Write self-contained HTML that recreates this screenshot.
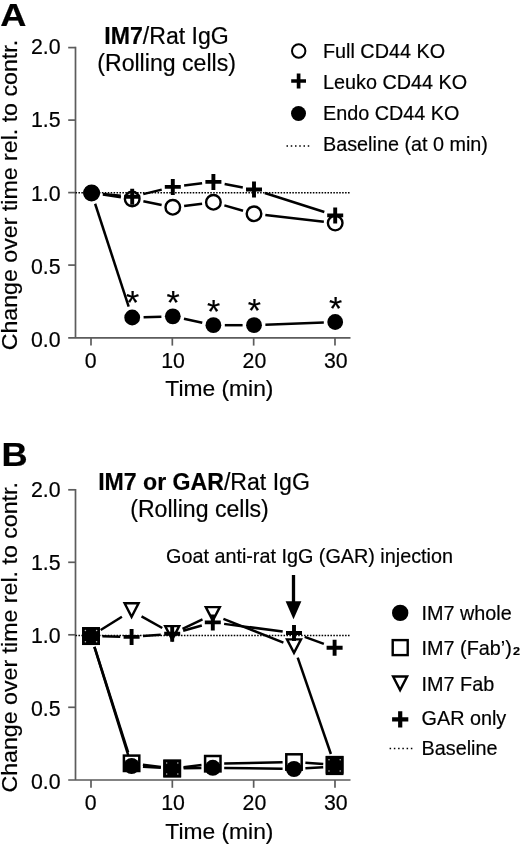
<!DOCTYPE html>
<html><head><meta charset="utf-8"><title>Figure</title>
<style>
html,body{margin:0;padding:0;background:#fff;}
body{width:520px;height:844px;overflow:hidden;}
svg{display:block;font-family:"Liberation Sans",sans-serif;fill:#000;}
svg text{stroke:#000;stroke-width:0.2px;}
</style></head><body>
<svg width="520" height="844" viewBox="0 0 520 844">
<defs><filter id="soft" x="0" y="0" width="520" height="844" filterUnits="userSpaceOnUse"><feGaussianBlur stdDeviation="0.35"/></filter></defs>
<rect width="520" height="844" fill="#fff"/>
<g filter="url(#soft)">
<path d="M68.2 337.8H350.5M75.5 46.800000000000004V337.8" stroke="#5c5c5c" stroke-width="1.7" fill="none"/>
<line x1="68.2" y1="47.60" x2="75.5" y2="47.60" stroke="#5c5c5c" stroke-width="1.7"/>
<text x="60.6" y="54.30" font-size="21.3" text-anchor="end" font-weight="normal" >2.0</text>
<line x1="68.2" y1="120.10" x2="75.5" y2="120.10" stroke="#5c5c5c" stroke-width="1.7"/>
<text x="60.6" y="127.40" font-size="21.3" text-anchor="end" font-weight="normal" >1.5</text>
<line x1="68.2" y1="192.60" x2="75.5" y2="192.60" stroke="#5c5c5c" stroke-width="1.7"/>
<text x="60.6" y="200.50" font-size="21.3" text-anchor="end" font-weight="normal" >1.0</text>
<line x1="68.2" y1="265.10" x2="75.5" y2="265.10" stroke="#5c5c5c" stroke-width="1.7"/>
<text x="60.6" y="273.60" font-size="21.3" text-anchor="end" font-weight="normal" >0.5</text>
<text x="60.6" y="346.70" font-size="21.3" text-anchor="end" font-weight="normal" >0.0</text>
<line x1="91.00" y1="337.8" x2="91.00" y2="345.6" stroke="#5c5c5c" stroke-width="1.7"/>
<text x="90.60" y="367.7" font-size="21.3" text-anchor="middle" font-weight="normal" >0</text>
<line x1="172.33" y1="337.8" x2="172.33" y2="345.6" stroke="#5c5c5c" stroke-width="1.7"/>
<text x="173.13" y="367.7" font-size="21.3" text-anchor="middle" font-weight="normal" >10</text>
<line x1="253.66" y1="337.8" x2="253.66" y2="345.6" stroke="#5c5c5c" stroke-width="1.7"/>
<text x="254.46" y="367.7" font-size="21.3" text-anchor="middle" font-weight="normal" >20</text>
<line x1="334.99" y1="337.8" x2="334.99" y2="345.6" stroke="#5c5c5c" stroke-width="1.7"/>
<text x="335.79" y="367.7" font-size="21.3" text-anchor="middle" font-weight="normal" >30</text>
<line x1="75.5" y1="192.70" x2="350.5" y2="192.70" stroke="#000" stroke-width="1.6" stroke-dasharray="1.55 1.38"/>
<text x="219.4" y="396.3" font-size="22.8" text-anchor="middle" font-weight="normal" >Time (min)</text>
<text x="0" y="0" font-size="22.7" text-anchor="middle" font-weight="normal" textLength="310.5" lengthAdjust="spacingAndGlyphs" transform="translate(17.0 195.1) rotate(-90)">Change over time rel. to contr.</text>
<text x="0" y="0" font-size="31.5" text-anchor="start" font-weight="bold" transform="translate(0.2 26.2) scale(1.15 1.02)">A</text>
<text x="166.6" y="43.6" font-size="23.1" text-anchor="middle"><tspan font-weight="bold">IM7</tspan>/Rat IgG</text>
<text x="166.6" y="71.3" font-size="23.1" text-anchor="middle" font-weight="normal" >(Rolling cells)</text>
<line x1="102.87" y1="194.59" x2="120.93" y2="197.31" stroke="#000" stroke-width="2.5"/>
<line x1="143.37" y1="201.28" x2="161.63" y2="205.02" stroke="#000" stroke-width="2.5"/>
<line x1="184.11" y1="205.91" x2="202.09" y2="203.69" stroke="#000" stroke-width="2.5"/>
<line x1="224.37" y1="205.41" x2="243.03" y2="210.69" stroke="#000" stroke-width="2.5"/>
<line x1="265.33" y1="215.10" x2="323.87" y2="221.80" stroke="#000" stroke-width="2.5"/>
<line x1="102.95" y1="193.99" x2="120.85" y2="195.71" stroke="#000" stroke-width="2.5"/>
<line x1="143.28" y1="194.10" x2="161.72" y2="189.60" stroke="#000" stroke-width="2.5"/>
<line x1="184.11" y1="185.51" x2="202.09" y2="183.29" stroke="#000" stroke-width="2.5"/>
<line x1="224.61" y1="184.00" x2="242.79" y2="187.40" stroke="#000" stroke-width="2.5"/>
<line x1="264.86" y1="192.96" x2="324.34" y2="211.94" stroke="#000" stroke-width="2.5"/>
<line x1="95.13" y1="203.74" x2="128.67" y2="306.66" stroke="#000" stroke-width="2.5"/>
<line x1="143.60" y1="317.16" x2="161.40" y2="316.64" stroke="#000" stroke-width="2.5"/>
<line x1="183.94" y1="318.74" x2="202.26" y2="322.76" stroke="#000" stroke-width="2.5"/>
<line x1="224.80" y1="325.20" x2="242.60" y2="325.20" stroke="#000" stroke-width="2.5"/>
<line x1="265.39" y1="324.75" x2="323.81" y2="322.45" stroke="#000" stroke-width="2.5"/>
<circle cx="91.60" cy="192.90" r="7.3" fill="#fff" stroke="#000" stroke-width="2.4"/>
<circle cx="132.20" cy="199.00" r="7.3" fill="#fff" stroke="#000" stroke-width="2.4"/>
<circle cx="172.80" cy="207.30" r="7.3" fill="#fff" stroke="#000" stroke-width="2.4"/>
<circle cx="213.40" cy="202.30" r="7.3" fill="#fff" stroke="#000" stroke-width="2.4"/>
<circle cx="254.00" cy="213.80" r="7.3" fill="#fff" stroke="#000" stroke-width="2.4"/>
<circle cx="335.20" cy="223.10" r="7.3" fill="#fff" stroke="#000" stroke-width="2.4"/>
<path d="M83.60 192.90H99.60M91.60 184.90V200.90" stroke="#000" stroke-width="3.9" fill="none"/>
<path d="M124.20 196.80H140.20M132.20 188.80V204.80" stroke="#000" stroke-width="3.9" fill="none"/>
<path d="M164.80 186.90H180.80M172.80 178.90V194.90" stroke="#000" stroke-width="3.9" fill="none"/>
<path d="M205.40 181.90H221.40M213.40 173.90V189.90" stroke="#000" stroke-width="3.9" fill="none"/>
<path d="M246.00 189.50H262.00M254.00 181.50V197.50" stroke="#000" stroke-width="3.9" fill="none"/>
<path d="M327.20 215.40H343.20M335.20 207.40V223.40" stroke="#000" stroke-width="3.9" fill="none"/>
<circle cx="91.60" cy="192.90" r="7.9" fill="#000"/>
<circle cx="132.20" cy="317.50" r="7.9" fill="#000"/>
<circle cx="172.80" cy="316.30" r="7.9" fill="#000"/>
<circle cx="213.40" cy="325.20" r="7.9" fill="#000"/>
<circle cx="254.00" cy="325.20" r="7.9" fill="#000"/>
<circle cx="335.20" cy="322.00" r="7.9" fill="#000"/>
<text x="132.50" y="314.10" font-size="34" text-anchor="middle" font-weight="normal" >*</text>
<text x="173.10" y="313.80" font-size="34" text-anchor="middle" font-weight="normal" >*</text>
<text x="213.70" y="323.30" font-size="34" text-anchor="middle" font-weight="normal" >*</text>
<text x="254.30" y="322.30" font-size="34" text-anchor="middle" font-weight="normal" >*</text>
<text x="335.50" y="319.80" font-size="34" text-anchor="middle" font-weight="normal" >*</text>
<circle cx="298.70" cy="51.00" r="6.7" fill="#fff" stroke="#000" stroke-width="2.0"/>
<text x="323.0" y="58.2" font-size="19.8" text-anchor="start" font-weight="normal" >Full CD44 KO</text>
<path d="M291.20 81.00H306.00M298.60 73.60V88.40" stroke="#000" stroke-width="3.7" fill="none"/>
<text x="323.0" y="88.8" font-size="19.8" text-anchor="start" font-weight="normal" >Leuko CD44 KO</text>
<circle cx="298.50" cy="113.50" r="7.5" fill="#000"/>
<text x="323.0" y="119.9" font-size="19.8" text-anchor="start" font-weight="normal" >Endo CD44 KO</text>
<line x1="286.5" y1="146.0" x2="309.3" y2="146.0" stroke="#000" stroke-width="1.5" stroke-dasharray="1.5 2.75"/>
<text x="323.0" y="150.8" font-size="19.8" text-anchor="start" font-weight="normal" >Baseline (at 0 min)</text>
<path d="M68.2 780.0H350.5M75.5 489.0V780.0" stroke="#5c5c5c" stroke-width="1.7" fill="none"/>
<line x1="68.2" y1="489.80" x2="75.5" y2="489.80" stroke="#5c5c5c" stroke-width="1.7"/>
<text x="60.6" y="496.50" font-size="21.3" text-anchor="end" font-weight="normal" >2.0</text>
<line x1="68.2" y1="562.30" x2="75.5" y2="562.30" stroke="#5c5c5c" stroke-width="1.7"/>
<text x="60.6" y="569.60" font-size="21.3" text-anchor="end" font-weight="normal" >1.5</text>
<line x1="68.2" y1="634.80" x2="75.5" y2="634.80" stroke="#5c5c5c" stroke-width="1.7"/>
<text x="60.6" y="642.70" font-size="21.3" text-anchor="end" font-weight="normal" >1.0</text>
<line x1="68.2" y1="707.30" x2="75.5" y2="707.30" stroke="#5c5c5c" stroke-width="1.7"/>
<text x="60.6" y="715.80" font-size="21.3" text-anchor="end" font-weight="normal" >0.5</text>
<text x="60.6" y="788.90" font-size="21.3" text-anchor="end" font-weight="normal" >0.0</text>
<line x1="91.00" y1="780.0" x2="91.00" y2="787.8" stroke="#5c5c5c" stroke-width="1.7"/>
<text x="90.60" y="809.9" font-size="21.3" text-anchor="middle" font-weight="normal" >0</text>
<line x1="172.33" y1="780.0" x2="172.33" y2="787.8" stroke="#5c5c5c" stroke-width="1.7"/>
<text x="173.13" y="809.9" font-size="21.3" text-anchor="middle" font-weight="normal" >10</text>
<line x1="253.66" y1="780.0" x2="253.66" y2="787.8" stroke="#5c5c5c" stroke-width="1.7"/>
<text x="254.46" y="809.9" font-size="21.3" text-anchor="middle" font-weight="normal" >20</text>
<line x1="334.99" y1="780.0" x2="334.99" y2="787.8" stroke="#5c5c5c" stroke-width="1.7"/>
<text x="335.79" y="809.9" font-size="21.3" text-anchor="middle" font-weight="normal" >30</text>
<line x1="75.5" y1="635.50" x2="350.5" y2="635.50" stroke="#000" stroke-width="1.6" stroke-dasharray="1.55 1.38"/>
<text x="219.4" y="838.5" font-size="22.8" text-anchor="middle" font-weight="normal" >Time (min)</text>
<text x="0" y="0" font-size="22.7" text-anchor="middle" font-weight="normal" textLength="310.5" lengthAdjust="spacingAndGlyphs" transform="translate(17.0 637.3) rotate(-90)">Change over time rel. to contr.</text>
<text x="0" y="0" font-size="31.5" text-anchor="start" font-weight="bold" transform="translate(1.6 465.8) scale(1.15 1.08)">B</text>
<text x="98.2" y="489.6" font-size="23.1"><tspan font-weight="bold">IM7 or GAR</tspan>/Rat IgG</text>
<text x="199.5" y="516.6" font-size="23.1" text-anchor="middle" font-weight="normal" >(Rolling cells)</text>
<text x="166.0" y="563.3" font-size="19.8" text-anchor="start" font-weight="normal" >Goat anti-rat IgG (GAR) injection</text>
<line x1="94.40" y1="646.98" x2="128.20" y2="755.12" stroke="#000" stroke-width="2.5"/>
<line x1="142.98" y1="766.70" x2="160.82" y2="767.80" stroke="#000" stroke-width="2.5"/>
<line x1="183.60" y1="768.30" x2="201.40" y2="768.00" stroke="#000" stroke-width="2.5"/>
<line x1="224.20" y1="767.97" x2="282.60" y2="768.83" stroke="#000" stroke-width="2.5"/>
<line x1="305.38" y1="768.27" x2="323.22" y2="767.13" stroke="#000" stroke-width="2.5"/>
<line x1="94.47" y1="646.96" x2="128.13" y2="752.44" stroke="#000" stroke-width="2.5"/>
<line x1="142.91" y1="764.75" x2="160.89" y2="767.05" stroke="#000" stroke-width="2.5"/>
<line x1="183.52" y1="767.16" x2="201.48" y2="765.04" stroke="#000" stroke-width="2.5"/>
<line x1="224.20" y1="763.46" x2="282.60" y2="762.24" stroke="#000" stroke-width="2.5"/>
<line x1="305.37" y1="762.78" x2="323.23" y2="764.02" stroke="#000" stroke-width="2.5"/>
<line x1="100.67" y1="630.06" x2="121.93" y2="616.79" stroke="#000" stroke-width="2.5"/>
<line x1="141.53" y1="616.34" x2="162.27" y2="628.01" stroke="#000" stroke-width="2.5"/>
<line x1="182.53" y1="628.77" x2="202.47" y2="619.43" stroke="#000" stroke-width="2.5"/>
<line x1="223.40" y1="618.80" x2="283.40" y2="642.60" stroke="#000" stroke-width="2.5"/>
<line x1="297.71" y1="657.58" x2="330.89" y2="754.02" stroke="#000" stroke-width="2.5"/>
<line x1="102.40" y1="636.32" x2="120.20" y2="636.68" stroke="#000" stroke-width="2.5"/>
<line x1="142.97" y1="636.03" x2="160.83" y2="634.67" stroke="#000" stroke-width="2.5"/>
<line x1="183.18" y1="630.72" x2="201.82" y2="625.48" stroke="#000" stroke-width="2.5"/>
<line x1="224.10" y1="623.88" x2="282.70" y2="631.52" stroke="#000" stroke-width="2.5"/>
<line x1="304.72" y1="636.88" x2="323.88" y2="643.82" stroke="#000" stroke-width="2.5"/>
<path d="M84.00 628.65H98.00L91.00 642.15Z" fill="#fff" stroke="#000" stroke-width="2.4" stroke-linejoin="miter"/>
<path d="M124.60 603.30H138.60L131.60 616.80Z" fill="#fff" stroke="#000" stroke-width="2.4" stroke-linejoin="miter"/>
<path d="M165.20 626.15H179.20L172.20 639.65Z" fill="#fff" stroke="#000" stroke-width="2.4" stroke-linejoin="miter"/>
<path d="M205.80 607.15H219.80L212.80 620.65Z" fill="#fff" stroke="#000" stroke-width="2.4" stroke-linejoin="miter"/>
<path d="M287.00 639.35H301.00L294.00 652.85Z" fill="#fff" stroke="#000" stroke-width="2.4" stroke-linejoin="miter"/>
<path d="M327.60 757.35H341.60L334.60 770.85Z" fill="#fff" stroke="#000" stroke-width="2.4" stroke-linejoin="miter"/>
<path d="M83.00 636.10H99.00M91.00 628.10V644.10" stroke="#000" stroke-width="3.9" fill="none"/>
<path d="M123.60 636.90H139.60M131.60 628.90V644.90" stroke="#000" stroke-width="3.9" fill="none"/>
<path d="M164.20 633.80H180.20M172.20 625.80V641.80" stroke="#000" stroke-width="3.9" fill="none"/>
<path d="M204.80 622.40H220.80M212.80 614.40V630.40" stroke="#000" stroke-width="3.9" fill="none"/>
<path d="M286.00 633.00H302.00M294.00 625.00V641.00" stroke="#000" stroke-width="3.9" fill="none"/>
<path d="M326.60 647.70H342.60M334.60 639.70V655.70" stroke="#000" stroke-width="3.9" fill="none"/>
<rect x="83.30" y="628.40" width="15.4" height="15.4" fill="#fff" stroke="#000" stroke-width="2.5"/>
<rect x="123.90" y="755.60" width="15.4" height="15.4" fill="#fff" stroke="#000" stroke-width="2.5"/>
<rect x="164.50" y="760.80" width="15.4" height="15.4" fill="#fff" stroke="#000" stroke-width="2.5"/>
<rect x="205.10" y="756.00" width="15.4" height="15.4" fill="#fff" stroke="#000" stroke-width="2.5"/>
<rect x="286.30" y="754.30" width="15.4" height="15.4" fill="#fff" stroke="#000" stroke-width="2.5"/>
<rect x="326.90" y="757.10" width="15.4" height="15.4" fill="#fff" stroke="#000" stroke-width="2.5"/>
<circle cx="91.00" cy="636.10" r="8.0" fill="#000"/>
<circle cx="131.60" cy="766.00" r="8.0" fill="#000"/>
<circle cx="172.20" cy="768.50" r="8.0" fill="#000"/>
<circle cx="212.80" cy="767.80" r="8.0" fill="#000"/>
<circle cx="294.00" cy="769.00" r="8.0" fill="#000"/>
<circle cx="334.60" cy="766.40" r="8.0" fill="#000"/>
<rect x="82.10" y="627.20" width="17.8" height="17.8" fill="#000"/>
<circle cx="85.40" cy="630.50" r="0.75" fill="#fff" fill-opacity="0.75"/>
<circle cx="85.40" cy="641.70" r="0.75" fill="#fff" fill-opacity="0.75"/>
<circle cx="96.60" cy="630.50" r="0.75" fill="#fff" fill-opacity="0.75"/>
<circle cx="96.60" cy="641.70" r="0.75" fill="#fff" fill-opacity="0.75"/>
<rect x="163.30" y="759.60" width="17.8" height="17.8" fill="#000"/>
<circle cx="166.60" cy="762.90" r="0.75" fill="#fff" fill-opacity="0.75"/>
<circle cx="166.60" cy="774.10" r="0.75" fill="#fff" fill-opacity="0.75"/>
<circle cx="177.80" cy="762.90" r="0.75" fill="#fff" fill-opacity="0.75"/>
<circle cx="177.80" cy="774.10" r="0.75" fill="#fff" fill-opacity="0.75"/>
<rect x="325.70" y="756.50" width="17.8" height="18.6" fill="#000"/>
<circle cx="329.00" cy="759.80" r="0.75" fill="#fff" fill-opacity="0.75"/>
<circle cx="329.00" cy="771.00" r="0.75" fill="#fff" fill-opacity="0.75"/>
<circle cx="340.20" cy="759.80" r="0.75" fill="#fff" fill-opacity="0.75"/>
<circle cx="340.20" cy="771.00" r="0.75" fill="#fff" fill-opacity="0.75"/>
<line x1="293.5" y1="575" x2="293.5" y2="606" stroke="#000" stroke-width="3.3"/>
<path d="M285.6 601.2H301.4L293.5 619.2Z" fill="#000"/>
<circle cx="400.20" cy="612.90" r="8.2" fill="#000"/>
<text x="421.6" y="619.6" font-size="19.8" text-anchor="start" font-weight="normal" >IM7 whole</text>
<rect x="392.70" y="640.10" width="15.0" height="15.0" fill="#fff" stroke="#000" stroke-width="2.4"/>
<text x="421.6" y="655.0" font-size="19.8" text-anchor="start" font-weight="normal" >IM7 (Fab’)</text>
<text x="0" y="0" font-size="11" text-anchor="start" font-weight="bold" transform="translate(512.9 655.0) scale(1.15 1)">2</text>
<path d="M393.10 676.55H407.10L400.10 690.05Z" fill="#fff" stroke="#000" stroke-width="2.4" stroke-linejoin="miter"/>
<text x="421.6" y="691.0" font-size="19.8" text-anchor="start" font-weight="normal" >IM7 Fab</text>
<path d="M392.10 719.30H408.30M400.20 711.20V727.40" stroke="#000" stroke-width="4.2" fill="none"/>
<text x="421.6" y="725.0" font-size="19.8" text-anchor="start" font-weight="normal" >GAR only</text>
<line x1="389.6" y1="748.5" x2="412.4" y2="748.5" stroke="#000" stroke-width="1.5" stroke-dasharray="1.5 2.75"/>
<text x="421.6" y="754.5" font-size="19.8" text-anchor="start" font-weight="normal" >Baseline</text>
</g>
</svg>
</body></html>
